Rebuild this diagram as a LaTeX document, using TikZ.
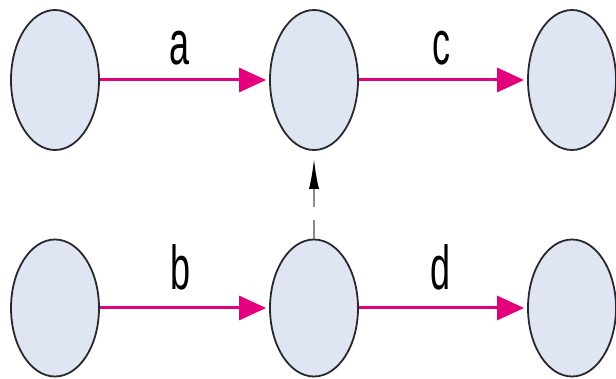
\documentclass[tikz,border=0pt]{standalone}
\usepackage{fontspec}
\setmainfont{Liberation Sans}
\usetikzlibrary{shapes.geometric,arrows.meta}
\definecolor{pinkc}{RGB}{228,0,124}
\definecolor{fillc}{RGB}{224,229,244}
\definecolor{edgec}{RGB}{40,40,45}
\definecolor{grayc}{RGB}{140,140,140}
\begin{document}
\begin{tikzpicture}[x=1pt,y=-1pt,
  oval/.style={ellipse,draw=edgec,fill=fillc,line width=1.8pt,inner sep=0pt,
    minimum width=88pt,minimum height=140pt},
  pinkarrow/.style={draw=pinkc,line width=3pt,
    -{Triangle[length=27pt,width=24pt]},shorten >=3pt},
  lbl/.style={anchor=base,inner sep=0pt,xscale=0.58,font=\fontsize{62}{62}\selectfont}]
\useasboundingbox (0,0) rectangle (616,379);
\node[oval] (tl) at (55,80) {};
\node[oval] (tm) at (314,80) {};
\node[oval] (tr) at (572,80) {};
\node[oval,minimum height=137pt] (bl) at (55,308) {};
\node[oval,minimum height=137pt] (bm) at (314,308) {};
\node[oval,minimum height=137pt] (br) at (572,308) {};
\draw[pinkarrow] (tl) -- (tm);
\draw[pinkarrow] (tm) -- (tr);
\draw[pinkarrow] (bl) -- (bm);
\draw[pinkarrow] (bm) -- (br);
\draw[draw=grayc,line width=1.8pt,dash pattern=on 19pt off 13pt on 200pt,
  -{Latex[length=30pt,width=10pt,black]},shorten >=8pt] (bm.north) -- (tm.south);
\node[lbl] (la) at (179,65) {a};
\node[lbl] (lc) at (441,65) {c};
\node[lbl] (lb) at (180,290) {b};
\node[lbl] (ld) at (440,290) {d};
\end{tikzpicture}
\end{document}
